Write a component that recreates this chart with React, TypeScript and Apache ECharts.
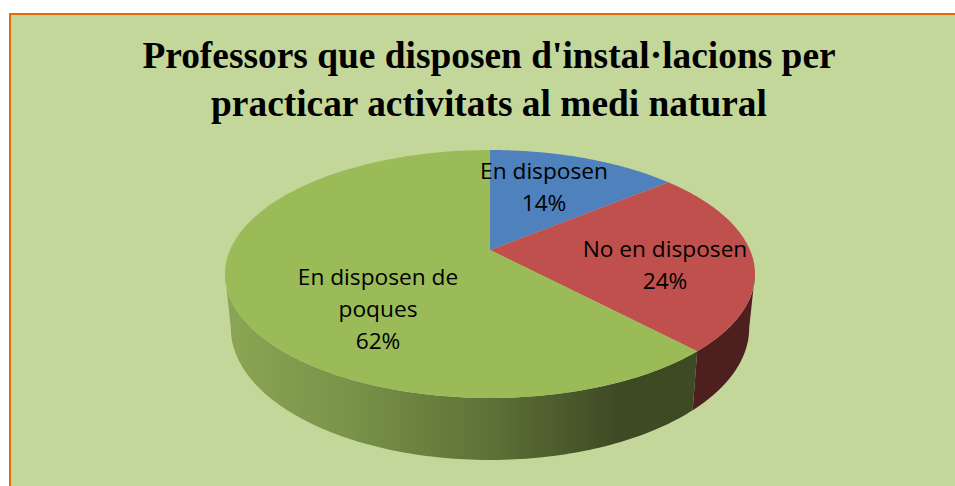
import React, { useEffect, useRef } from "react";
import * as echarts from "echarts";

const titleLines = ["Professors que disposen d'instal·lacions per", "practicar activitats al medi natural"];
const categories = ["En disposen", "No en disposen", "En disposen de\npoques"];
const values = [14, 24, 62];
const colors = ["#4F81BD", "#C0504D", "#9BBB59"];

export default function App() {
  const ref = useRef<HTMLDivElement>(null);
  useEffect(() => {
    document.body.style.margin = "0";
    const chart = echarts.init(ref.current!, undefined, { renderer: "svg" });
    const total = values.reduce((a, b) => a + b, 0);
    const cx = 490, cy = 250, a = 260, b = 119.35, k = 0.1935;
    const top = (t: number): number[] => {
      const u = Math.sin(t), v = -Math.cos(t), w = 1 - k * v;
      return [cx + (a * u) / w, cy + (b * v) / w];
    };
    const bottom = (t: number): number[] => {
      const p = top(t);
      return [cx + (p[0] - cx) * 0.978, cy + (p[1] - cy) * 1.064 + 52.5];
    };
    const tR = Math.acos(-k), tL = 2 * Math.PI - tR;
    const labelPos = [[544, 186], [665, 264], [378, 308]];
    const wallFill = (i: number) =>
      i === 1
        ? "#4E1F1F"
        : new echarts.graphic.LinearGradient(0, 0, 1, 0, [
            { offset: 0, color: "#8BA654" },
            { offset: 0.25, color: "#7A9449" },
            { offset: 0.55, color: "#5F7337" },
            { offset: 0.83, color: "#3E4A24" },
            { offset: 1, color: "#3E4A24" },
          ]);
    const renderItem = (params: any, api: any) => {
      const i = params.dataIndex;
      const before = values.slice(0, i).reduce((s, v) => s + v, 0);
      const t0 = (before / total) * 2 * Math.PI;
      const t1 = ((before + api.value(0)) / total) * 2 * Math.PI;
      const pts: number[][] = [[cx, cy]];
      const N = 120;
      for (let j = 0; j <= N; j++) pts.push(top(t0 + ((t1 - t0) * j) / N));
      const children: any[] = [];
      const w0 = Math.max(t0, tR), w1 = Math.min(t1, tL);
      if (w1 > w0) {
        const wt: number[][] = [], wb: number[][] = [];
        for (let j = 0; j <= N; j++) {
          const t = w0 + ((w1 - w0) * j) / N;
          wt.push(top(t));
          wb.unshift(bottom(t));
        }
        children.push({ type: "polygon", shape: { points: wt.concat(wb) }, style: { fill: wallFill(i) } });
      }
      children.push({ type: "polygon", shape: { points: pts }, style: { fill: colors[i] } });
      children.push({
        type: "text",
        x: labelPos[i][0],
        y: labelPos[i][1],
        z2: 10,
        style: {
          text: `${categories[i]}\n${api.value(0)}%`,
          x: 0,
          y: 0,
          fill: "#000",
          font: '22.7px "Open Sans"',
          lineHeight: 32,
          align: "center",
          verticalAlign: "middle",
        },
      });
      return { type: "group", children };
    };
    chart.setOption({
      animation: false,
      backgroundColor: "transparent",
      title: {
        text: titleLines.join("\n"),
        left: 484,
        top: 26,
        textAlign: "center",
        textStyle: {
          fontFamily: '"Liberation Serif"',
          fontWeight: "bold",
          fontSize: 37.4,
          lineHeight: 48,
          color: "#000",
        },
      },
      graphic: [
        {
          type: "rect",
          z: -1,
          silent: true,
          shape: { x: 10, y: 14, width: 960, height: 480 },
          style: { fill: "#C4D79B", stroke: "#E36C0A", lineWidth: 2 },
        },
      ],
      series: [
        {
          type: "custom",
          coordinateSystem: "none",
          renderItem,
          data: values.map((v, i) => ({ name: categories[i].replace("\n", " "), value: [v] })),
          z: 2,
        },
      ],
    });
    return () => chart.dispose();
  }, []);
  return <div ref={ref} style={{ width: 955, height: 486 }} />;
}
